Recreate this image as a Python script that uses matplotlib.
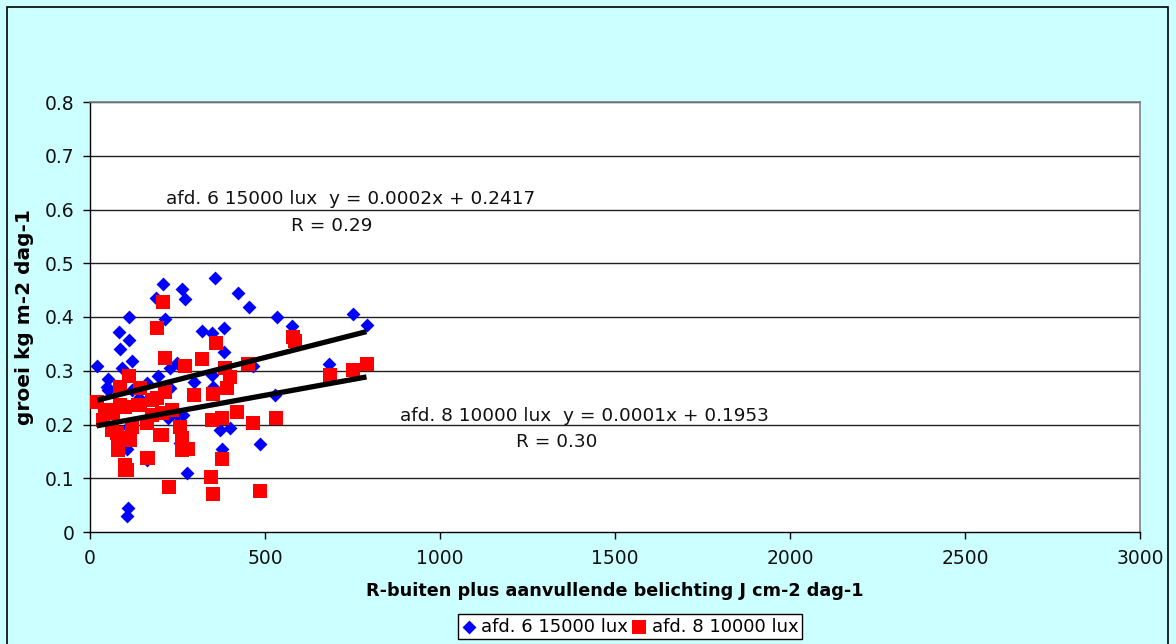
import matplotlib
matplotlib.use("Agg")
import matplotlib.pyplot as plt
from matplotlib.patches import Rectangle
import numpy as np

# afd. 6, 15000 lux
afd6_x = [21, 51, 52, 48, 83, 86, 90, 111, 112, 119, 119, 108, 105, 108, 105, 140,
          162, 162, 189, 195, 209, 214, 224, 229, 229, 248, 248, 257, 262, 267, 271,
          278, 297, 319, 348, 348, 352, 357, 371, 376, 383, 383, 400, 424, 454, 467,
          486, 529, 533, 576, 684, 752, 790]
afd6_y = [0.309, 0.284, 0.264, 0.270, 0.373, 0.340, 0.305, 0.400, 0.358, 0.318, 0.264,
          0.196, 0.154, 0.045, 0.030, 0.250, 0.278, 0.134, 0.435, 0.290, 0.461, 0.397,
          0.212, 0.305, 0.268, 0.314, 0.218, 0.165, 0.453, 0.218, 0.433, 0.110, 0.279,
          0.374, 0.370, 0.292, 0.270, 0.472, 0.190, 0.154, 0.379, 0.335, 0.193, 0.445,
          0.419, 0.308, 0.163, 0.254, 0.400, 0.383, 0.313, 0.405, 0.386]

# afd. 8, 10000 lux
afd8_x = [19, 38, 43, 52, 62, 67, 76, 81, 81, 86, 86, 100, 100, 100, 105, 109, 112,
          114, 119, 138, 143, 143, 162, 162, 167, 176, 176, 190, 190, 200, 205, 205,
          209, 214, 214, 227, 233, 257, 262, 262, 271, 281, 297, 319, 346, 348, 352,
          352, 360, 376, 376, 386, 390, 400, 419, 452, 467, 486, 531, 581, 586, 686,
          752, 790]
afd8_y = [0.241, 0.208, 0.221, 0.227, 0.190, 0.221, 0.184, 0.153, 0.159, 0.270, 0.236,
          0.233, 0.125, 0.115, 0.115, 0.174, 0.290, 0.171, 0.196, 0.236, 0.267, 0.236,
          0.202, 0.137, 0.137, 0.246, 0.218, 0.380, 0.249, 0.180, 0.221, 0.180, 0.428,
          0.324, 0.261, 0.083, 0.227, 0.196, 0.174, 0.153, 0.309, 0.154, 0.254, 0.322,
          0.103, 0.208, 0.257, 0.071, 0.351, 0.212, 0.135, 0.305, 0.267, 0.289, 0.224,
          0.312, 0.203, 0.076, 0.213, 0.362, 0.355, 0.292, 0.301, 0.313]

# linear trend lines (slope, intercept) and correlation
afd6_fit = (0.000166, 0.2417)
afd8_fit = (0.000118, 0.1953)
afd6_r = 0.29
afd8_r = 0.30

series_labels = ["afd. 6 15000 lux", "afd. 8 10000 lux"]
x_ticks = [0, 500, 1000, 1500, 2000, 2500, 3000]
y_ticks = [0, 0.1, 0.2, 0.3, 0.4, 0.5, 0.6, 0.7, 0.8]

BG = "#CCFFFF"
W, H = 1176, 644

plt.rcParams["font.family"] = ["DejaVu Sans"]
fig = plt.figure(figsize=(W / 100, H / 100), dpi=100, facecolor=BG)

# outer chart border
fig.patches.append(Rectangle((7 / W, -0.02), (1168 - 7) / W, 1 - 7 / H + 0.02,
                             transform=fig.transFigure, fill=False,
                             edgecolor="black", linewidth=1.2))

ax = fig.add_axes([90 / W, 1 - 532 / H, (1140 - 90) / W, (532 - 102) / H])
ax.set_facecolor("white")
ax.set_xlim(0, 3000)
ax.set_ylim(0, 0.8)

for yv in y_ticks[1:]:
    ax.axhline(yv, color="#202020", linewidth=1.0, zorder=1)

for side in ("top", "right"):
    ax.spines[side].set_color("#808080")
    ax.spines[side].set_linewidth(1.2)
for side in ("left", "bottom"):
    ax.spines[side].set_color("black")
    ax.spines[side].set_linewidth(1.0)

ax.set_xticks(x_ticks)
ax.set_xticklabels([str(v) for v in x_ticks])
ax.set_yticks(y_ticks)
ax.set_yticklabels(["0" if v == 0 else f"{v:.1f}" for v in y_ticks])
ax.tick_params(axis="both", direction="out", length=5, width=1, color="black",
               labelsize=13.5, labelcolor="#111111")
ax.tick_params(axis="y", pad=6)
ax.tick_params(axis="x", pad=7)

ax.scatter(afd6_x, afd6_y, marker="D", s=50, color="#0000FF", linewidths=0,
           zorder=3, label=series_labels[0])
ax.scatter(afd8_x, afd8_y, marker="s", s=95, color="#FF0000", linewidths=0,
           zorder=4, label=series_labels[1])

for xs, (m, b) in ((afd6_x, afd6_fit), (afd8_x, afd8_fit)):
    xx = np.array([min(xs), max(xs)])
    ax.plot(xx, m * xx + b, color="black", linewidth=3.8, solid_capstyle="butt",
            zorder=5)

# trend line equations
ax.text(746, 0.6195, f"{series_labels[0]}  y = {afd6_fit[0]:.4f}x + {afd6_fit[1]:.4f}",
        ha="center", va="center", fontsize=13.3, color="#111111", zorder=6)
ax.text(691, 0.569, f"R = {afd6_r:.2f}", ha="center", va="center",
        fontsize=13.3, color="#111111", zorder=6)
ax.text(1414, 0.216, f"{series_labels[1]}  y = {afd8_fit[0]:.4f}x + {afd8_fit[1]:.4f}",
        ha="center", va="center", fontsize=13.3, color="#111111", zorder=6)
ax.text(1334, 0.167, f"R = {afd8_r:.2f}", ha="center", va="center",
        fontsize=13.3, color="#111111", zorder=6)

ax.set_xlabel("R-buiten plus aanvullende belichting J cm-2 dag-1", fontsize=12.7,
              fontweight="bold", labelpad=10)
ax.set_ylabel("groei kg m-2 dag-1", fontsize=14.5, fontweight="bold", labelpad=4)
ax.yaxis.set_label_coords(-0.053, 0.5)

leg = fig.legend(loc="center", bbox_to_anchor=(630 / W, 1 - 626.5 / H), ncol=2,
                 fontsize=13, frameon=True, fancybox=False, edgecolor="black",
                 framealpha=1, handlelength=0.8, handletextpad=0.3,
                 columnspacing=0.2, borderpad=0.2, borderaxespad=0,
                 markerscale=1.0, scatterpoints=1)
leg.get_frame().set_linewidth(1.0)

fig.savefig("out.png", dpi=100, facecolor=BG)
